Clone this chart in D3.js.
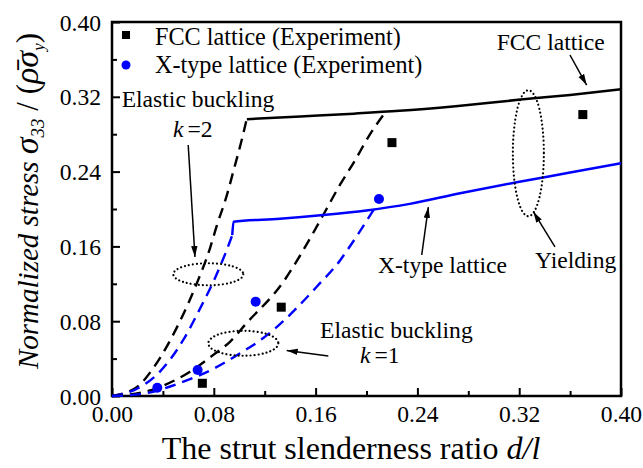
<!DOCTYPE html>
<html>
<head>
<meta charset="utf-8">
<script src="https://cdn.jsdelivr.net/npm/d3@7"></script>
<style>
  body { margin: 0; background: #fff; }
  text { font-family: "Liberation Serif", "Times New Roman", serif; fill: #000; }
</style>
</head>
<body>
<svg id="graphe" width="643" height="468"></svg>
<script>
// Experimental points
const fccExpX = [0.071, 0.133, 0.220, 0.370]
const fccExpY = [0.0136, 0.095, 0.271, 0.301]
const xExpX = [0.0356, 0.0673, 0.1129, 0.2098]
const xExpY = [0.0089, 0.0278, 0.1009, 0.2107]

// Yielding curves (solid)
const fccYieldX = [0.106, 0.148, 0.190, 0.226, 0.270, 0.321, 0.360, 0.400]
const fccYieldY = [0.296, 0.299, 0.302, 0.305, 0.310, 0.317, 0.322, 0.328]
const xYieldX = [0.0945, 0.0955, 0.132, 0.166, 0.200, 0.234, 0.2735, 0.318, 0.360, 0.400]
const xYieldY = [0.172, 0.1864, 0.1895, 0.1935, 0.1985, 0.2055, 0.2168, 0.2286, 0.239, 0.249]

// Elastic buckling curves (dashed)
const fccK2X = [0, 0.020, 0.0325, 0.0534, 0.0665, 0.077, 0.0823, 0.0901, 0.0953, 0.1027, 0.1058]
const fccK2Y = [0, 0.010, 0.030, 0.080, 0.120, 0.158, 0.182, 0.214, 0.240, 0.278, 0.296]
const xK2X = [0, 0.020, 0.0364, 0.056, 0.0692, 0.0809, 0.0901, 0.0945]
const xK2Y = [0, 0.008, 0.0243, 0.0599, 0.0935, 0.126, 0.156, 0.172]
const fccK1X = [0, 0.030, 0.0482, 0.0613, 0.0796, 0.0927, 0.1058, 0.1346, 0.1477, 0.166, 0.1792, 0.191, 0.2014, 0.2132]
const fccK1Y = [0, 0.006, 0.016, 0.026, 0.044, 0.058, 0.078, 0.122, 0.150, 0.1936, 0.226, 0.252, 0.277, 0.3005]
const xK1X = [0, 0.022, 0.0613, 0.0796, 0.1006, 0.1189, 0.1346, 0.1451, 0.1609, 0.1792, 0.1844, 0.206]
const xK1Y = [0, 0.002, 0.018, 0.029, 0.0457, 0.062, 0.080, 0.094, 0.1169, 0.145, 0.155, 0.200]

// Axes
const xTicks = [0, 0.04, 0.08, 0.12, 0.16, 0.20, 0.24, 0.28, 0.32, 0.36, 0.40]
const yTicks = [0, 0.04, 0.08, 0.12, 0.16, 0.20, 0.24, 0.28, 0.32, 0.36, 0.40]

// Annotations (data units)
const ellipses = [
  {cx: 0.0757, cy: 0.1302, rx: 35, ry: 11},
  {cx: 0.1032, cy: 0.0564, rx: 35, ry: 12.5},
  {cx: 0.3272, cy: 0.2596, rx: 15.5, ry: 63}
]
const arrows = [
  [0.0599, 0.2684, 0.0652, 0.1487],
  [0.170, 0.0428, 0.1373, 0.0487],
  [0.3599, 0.3647, 0.373, 0.3326],
  [0.2434, 0.1508, 0.2486, 0.2021],
  [0.3481, 0.1594, 0.3311, 0.1971]
]
const labels = [
  {t: 'Elastic buckling', x: 0.0076, y: 0.3091},
  {t: 'FCC lattice', x: 0.3023, y: 0.370},
  {t: 'X-type lattice', x: 0.209, y: 0.1312},
  {t: 'Yielding', x: 0.3324, y: 0.1366},
  {t: 'Elastic buckling', x: 0.1635, y: 0.062}
]
const kLabels = [
  {k: '2', x: 0.048, y: 0.2773},
  {k: '1', x: 0.1949, y: 0.035}
]

const svg = d3.select('#graphe')
const gauche = 112, droite = 621, haut = 22, bas = 396
const x = d3.scaleLinear().domain([0, 0.4]).range([gauche, droite])
const y = d3.scaleLinear().domain([0, 0.4]).range([bas, haut])
const bleu = '#0000ff'
const taille = '23.6px'

svg.append('defs').append('marker')
  .attr('id', 'fleche')
  .attr('markerUnits', 'userSpaceOnUse')
  .attr('markerWidth', 12).attr('markerHeight', 8)
  .attr('refX', 11).attr('refY', 4)
  .attr('orient', 'auto')
  .append('path').attr('d', 'M0,0.8 L11,4 L0,7.2 Z').attr('fill', '#000')

// Axe X
const axeX = svg.append('g')
  .attr('transform', `translate(0,${bas})`)
  .call(d3.axisBottom(x).tickValues(xTicks).tickSizeInner(-8).tickSizeOuter(0).tickFormat(d3.format('.2f')))
axeX.select('.domain').remove()
axeX.selectAll('.tick line').attr('stroke-width', 2)
  .attr('y2', (d, i) => i % 2 === 0 ? -8 : -5)
axeX.selectAll('.tick text').attr('y', 26).attr('dy', 0)
  .style('font-size', taille).style('font-family', '"Liberation Serif", serif')
  .text((d, i) => i % 2 === 0 ? d3.format('.2f')(d) : '')

// Axe Y
const axeY = svg.append('g')
  .attr('transform', `translate(${gauche},0)`)
  .call(d3.axisLeft(y).tickValues(yTicks).tickSizeInner(-8).tickSizeOuter(0).tickFormat(d3.format('.2f')))
axeY.select('.domain').remove()
axeY.selectAll('.tick line').attr('stroke-width', 2)
  .attr('x2', (d, i) => i % 2 === 0 ? 8 : 5)
axeY.selectAll('.tick text').attr('x', -11).attr('dy', '0.34em')
  .style('font-size', taille).style('font-family', '"Liberation Serif", serif')
  .text((d, i) => i % 2 === 0 ? d3.format('.2f')(d) : '')

// Cadre
svg.append('rect')
  .attr('x', gauche).attr('y', haut)
  .attr('width', droite - gauche).attr('height', bas - haut)
  .attr('fill', 'none').attr('stroke', '#000').attr('stroke-width', 2.5)

// Courbes
const ligne = d3.line().x(d => x(d[0])).y(d => y(d[1])).curve(d3.curveMonotoneX)
function tracer(xs, ys, couleur, pointille){
  const chemin = svg.append('path')
    .datum(d3.zip(xs, ys))
    .attr('d', ligne)
    .attr('fill', 'none')
    .attr('stroke', couleur)
    .attr('stroke-width', pointille ? 2.4 : 2.5)
  if (pointille) chemin.attr('stroke-dasharray', '11,7')
}
tracer(fccK2X, fccK2Y, '#000', true)
tracer(xK2X, xK2Y, bleu, true)
tracer(fccK1X, fccK1Y, '#000', true)
tracer(xK1X, xK1Y, bleu, true)
tracer(fccYieldX, fccYieldY, '#000', false)
tracer(xYieldX, xYieldY, bleu, false)

// Ellipses pointillées
svg.selectAll('ellipse.zone').data(ellipses).join('ellipse')
  .attr('class', 'zone')
  .attr('cx', d => x(d.cx)).attr('cy', d => y(d.cy))
  .attr('rx', d => d.rx).attr('ry', d => d.ry)
  .attr('fill', 'none').attr('stroke', '#000').attr('stroke-width', 2.2)
  .attr('stroke-linecap', 'round').attr('stroke-dasharray', '0.01,4')

// Flèches
svg.selectAll('line.fleche').data(arrows).join('line')
  .attr('class', 'fleche')
  .attr('x1', d => x(d[0])).attr('y1', d => y(d[1]))
  .attr('x2', d => x(d[2])).attr('y2', d => y(d[3]))
  .attr('stroke', '#000').attr('stroke-width', 1.5)
  .attr('marker-end', 'url(#fleche)')

// Points expérimentaux
svg.selectAll('rect.fcc').data(d3.zip(fccExpX, fccExpY)).join('rect')
  .attr('class', 'fcc')
  .attr('x', d => x(d[0]) - 4.5).attr('y', d => y(d[1]) - 4.5)
  .attr('width', 9).attr('height', 9).attr('fill', '#000')
svg.selectAll('circle.xtype').data(d3.zip(xExpX, xExpY)).join('circle')
  .attr('class', 'xtype')
  .attr('cx', d => x(d[0])).attr('cy', d => y(d[1]))
  .attr('r', 5).attr('fill', bleu)

// Légende
svg.append('rect').attr('x', 122).attr('y', 31).attr('width', 8).attr('height', 8).attr('fill', '#000')
svg.append('circle').attr('cx', 126).attr('cy', 65).attr('r', 4.5).attr('fill', bleu)
svg.append('text').attr('x', 155).attr('y', 45).style('font-size', '24.2px').text('FCC lattice (Experiment)')
svg.append('text').attr('x', 155).attr('y', 73).style('font-size', '24.2px').text('X-type lattice (Experiment)')

// Textes d'annotation
svg.selectAll('text.annot').data(labels).join('text')
  .attr('class', 'annot')
  .attr('x', d => x(d.x)).attr('y', d => y(d.y))
  .style('font-size', taille)
  .text(d => d.t)
kLabels.forEach(d => {
  const t = svg.append('text').attr('x', x(d.x)).attr('y', y(d.y)).style('font-size', taille)
  t.append('tspan').style('font-style', 'italic').text('k')
  t.append('tspan').attr('dx', 4).text('=' + d.k)
})

// Titre X
const titreX = svg.append('text')
  .attr('x', 351).attr('y', 459)
  .attr('text-anchor', 'middle')
  .style('font-size', '32px')
titreX.append('tspan').text('The strut slenderness ratio ')
titreX.append('tspan').style('font-style', 'italic').text('d/l')

// Titre Y
const titreY = svg.append('text')
  .attr('transform', 'translate(38,201) rotate(-90)')
  .attr('text-anchor', 'middle')
  .style('font-size', '29px')
titreY.append('tspan').style('font-style', 'italic').text('Normalized stress  ')
titreY.append('tspan').style('font-style', 'italic').style('font-size', '34px').text('σ')
titreY.append('tspan').attr('dy', 6).style('font-size', '19px').style('font-style', 'italic').text('33')
titreY.append('tspan').attr('dy', -6).style('font-size', '31px').text(' / (')
titreY.append('tspan').style('font-style', 'italic').style('font-size', '34px').text('ρ\u0304σ')
titreY.append('tspan').attr('dy', 6).style('font-size', '17px').style('font-style', 'italic').text('y')
titreY.append('tspan').attr('dy', -6).style('font-size', '31px').text(')')
</script>
</body>
</html>
